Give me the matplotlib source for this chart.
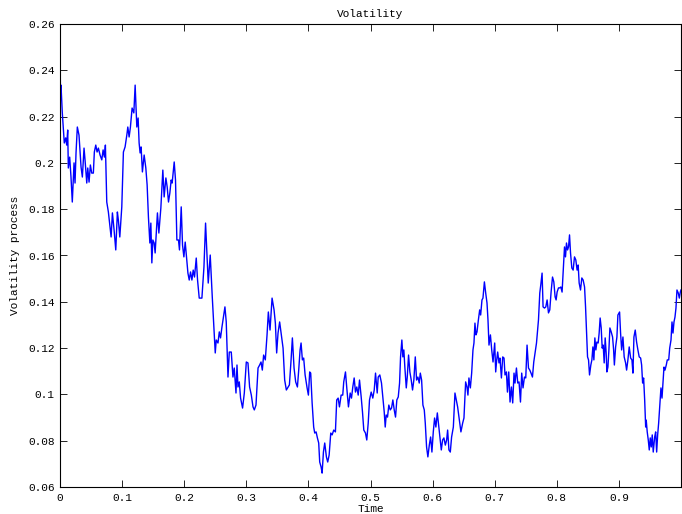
import matplotlib
matplotlib.use("Agg")
import matplotlib.pyplot as plt
from matplotlib.ticker import FuncFormatter

# volatility path (time, value)
time = [
    0.0000, 0.0008, 0.0016, 0.0037, 0.0069, 0.0092, 0.0108, 0.0124, 0.0134, 0.0156,
    0.0177, 0.0198, 0.0226, 0.0242, 0.0258, 0.0279, 0.0306, 0.0339, 0.0360, 0.0387,
    0.0403, 0.0431, 0.0447, 0.0468, 0.0489, 0.0511, 0.0537, 0.0553, 0.0576, 0.0597,
    0.0618, 0.0645, 0.0673, 0.0694, 0.0715, 0.0731, 0.0753, 0.0779, 0.0806, 0.0823,
    0.0844, 0.0871, 0.0898, 0.0924, 0.0940, 0.0963, 0.0995, 0.1021, 0.1048, 0.1076,
    0.1092, 0.1113, 0.1134, 0.1161, 0.1189, 0.1210, 0.1237, 0.1258, 0.1274, 0.1290,
    0.1306, 0.1327, 0.1355, 0.1382, 0.1403, 0.1424, 0.1447, 0.1463, 0.1479, 0.1495,
    0.1516, 0.1532, 0.1548, 0.1569, 0.1592, 0.1624, 0.1656, 0.1677, 0.1705, 0.1726,
    0.1747, 0.1769, 0.1790, 0.1806, 0.1839, 0.1860, 0.1882, 0.1908, 0.1924, 0.1952,
    0.1973, 0.1995, 0.2016, 0.2037, 0.2060, 0.2081, 0.2102, 0.2124, 0.2145, 0.2166,
    0.2194, 0.2215, 0.2242, 0.2285, 0.2318, 0.2344, 0.2366, 0.2387, 0.2419, 0.2452,
    0.2500, 0.2516, 0.2544, 0.2565, 0.2585, 0.2608, 0.2629, 0.2656, 0.2677, 0.2705,
    0.2726, 0.2758, 0.2785, 0.2806, 0.2834, 0.2850, 0.2866, 0.2887, 0.2908, 0.2940,
    0.2968, 0.3000, 0.3027, 0.3053, 0.3081, 0.3108, 0.3129, 0.3156, 0.3189, 0.3215,
    0.3237, 0.3258, 0.3279, 0.3306, 0.3334, 0.3355, 0.3382, 0.3415, 0.3447, 0.3468,
    0.3489, 0.3511, 0.3537, 0.3565, 0.3592, 0.3618, 0.3645, 0.3673, 0.3694, 0.3721,
    0.3742, 0.3769, 0.3795, 0.3823, 0.3844, 0.3866, 0.3882, 0.3903, 0.3924, 0.3947,
    0.3979, 0.4000, 0.4021, 0.4037, 0.4060, 0.4085, 0.4102, 0.4124, 0.4145, 0.4166,
    0.4182, 0.4205, 0.4221, 0.4242, 0.4263, 0.4290, 0.4311, 0.4334, 0.4360, 0.4382,
    0.4408, 0.4435, 0.4456, 0.4479, 0.4500, 0.4527, 0.4553, 0.4569, 0.4597, 0.4618,
    0.4645, 0.4673, 0.4694, 0.4715, 0.4737, 0.4758, 0.4779, 0.4802, 0.4823, 0.4850,
    0.4871, 0.4892, 0.4919, 0.4940, 0.4963, 0.4984, 0.5011, 0.5037, 0.5060, 0.5081,
    0.5108, 0.5124, 0.5150, 0.5177, 0.5198, 0.5221, 0.5237, 0.5253, 0.5274, 0.5295,
    0.5318, 0.5339, 0.5360, 0.5382, 0.5403, 0.5424, 0.5447, 0.5468, 0.5484, 0.5505,
    0.5521, 0.5537, 0.5553, 0.5576, 0.5592, 0.5613, 0.5634, 0.5656, 0.5677, 0.5698,
    0.5721, 0.5742, 0.5763, 0.5785, 0.5802, 0.5823, 0.5844, 0.5866, 0.5882, 0.5903,
    0.5924, 0.5947, 0.5968, 0.5989, 0.6011, 0.6032, 0.6053, 0.6076, 0.6097, 0.6118,
    0.6140, 0.6161, 0.6182, 0.6205, 0.6226, 0.6242, 0.6263, 0.6285, 0.6306, 0.6334,
    0.6360, 0.6382, 0.6403, 0.6424, 0.6456, 0.6484, 0.6505, 0.6532, 0.6553, 0.6569,
    0.6585, 0.6608, 0.6629, 0.6650, 0.6666, 0.6682, 0.6698, 0.6715, 0.6737, 0.6758,
    0.6774, 0.6795, 0.6811, 0.6834, 0.6855, 0.6876, 0.6892, 0.6908, 0.6931, 0.6952,
    0.6973, 0.7000, 0.7016, 0.7032, 0.7048, 0.7069, 0.7085, 0.7108, 0.7129, 0.7150,
    0.7166, 0.7189, 0.7205, 0.7226, 0.7247, 0.7269, 0.7290, 0.7311, 0.7327, 0.7350,
    0.7371, 0.7392, 0.7415, 0.7435, 0.7456, 0.7479, 0.7500, 0.7521, 0.7544, 0.7565,
    0.7585, 0.7608, 0.7629, 0.7650, 0.7673, 0.7705, 0.7726, 0.7742, 0.7763, 0.7779,
    0.7802, 0.7823, 0.7844, 0.7866, 0.7887, 0.7908, 0.7931, 0.7952, 0.7973, 0.7989,
    0.8005, 0.8027, 0.8048, 0.8065, 0.8085, 0.8102, 0.8124, 0.8140, 0.8156, 0.8173,
    0.8189, 0.8205, 0.8221, 0.8242, 0.8263, 0.8285, 0.8306, 0.8327, 0.8344, 0.8360,
    0.8382, 0.8403, 0.8424, 0.8447, 0.8463, 0.8479, 0.8495, 0.8511, 0.8527, 0.8548,
    0.8565, 0.8581, 0.8597, 0.8613, 0.8629, 0.8645, 0.8666, 0.8682, 0.8698, 0.8715,
    0.8731, 0.8747, 0.8763, 0.8779, 0.8795, 0.8806, 0.8823, 0.8839, 0.8855, 0.8876,
    0.8898, 0.8915, 0.8927, 0.8947, 0.8968, 0.8984, 0.9011, 0.9027, 0.9044, 0.9065,
    0.9085, 0.9108, 0.9124, 0.9145, 0.9166, 0.9189, 0.9210, 0.9226, 0.9242, 0.9263,
    0.9285, 0.9306, 0.9327, 0.9350, 0.9366, 0.9382, 0.9398, 0.9415, 0.9431, 0.9440,
    0.9456, 0.9473, 0.9489, 0.9505, 0.9521, 0.9537, 0.9553, 0.9576, 0.9592, 0.9608,
    0.9624, 0.9640, 0.9661, 0.9677, 0.9694, 0.9710, 0.9726, 0.9742, 0.9763, 0.9779,
    0.9802, 0.9818, 0.9839, 0.9855, 0.9871, 0.9887, 0.9903, 0.9919, 0.9935, 0.9956,
    0.9973, 0.9989, 1.0000,
]
vol = [
    0.2490, 0.2285, 0.2336, 0.2216, 0.2086, 0.2108, 0.2077, 0.2142, 0.1978, 0.2025,
    0.1939, 0.1831, 0.2000, 0.1913, 0.2043, 0.2155, 0.2120, 0.1982, 0.1939, 0.2064,
    0.2013, 0.1913, 0.1978, 0.1917, 0.1991, 0.1956, 0.1956, 0.2047, 0.2077, 0.2047,
    0.2064, 0.2034, 0.2013, 0.2056, 0.2025, 0.2077, 0.1831, 0.1788, 0.1723, 0.1680,
    0.1784, 0.1710, 0.1624, 0.1788, 0.1753, 0.1680, 0.1810, 0.2047, 0.2069, 0.2120,
    0.2155, 0.2112, 0.2155, 0.2237, 0.2216, 0.2336, 0.2155, 0.2194, 0.2086, 0.2043,
    0.2069, 0.1961, 0.2034, 0.1978, 0.1905, 0.1766, 0.1654, 0.1740, 0.1568, 0.1667,
    0.1654, 0.1611, 0.1689, 0.1784, 0.1697, 0.1805, 0.1969, 0.1853, 0.1935, 0.1896,
    0.1831, 0.1870, 0.1926, 0.1913, 0.2004, 0.1926, 0.1667, 0.1667, 0.1624, 0.1810,
    0.1645, 0.1594, 0.1658, 0.1594, 0.1524, 0.1494, 0.1529, 0.1494, 0.1537, 0.1507,
    0.1589, 0.1494, 0.1416, 0.1416, 0.1550, 0.1740, 0.1611, 0.1481, 0.1602, 0.1421,
    0.1179, 0.1235, 0.1222, 0.1270, 0.1244, 0.1291, 0.1330, 0.1378, 0.1313, 0.1075,
    0.1183, 0.1183, 0.1075, 0.1114, 0.1006, 0.1127, 0.1032, 0.1054, 0.0984, 0.0941,
    0.1006, 0.1140, 0.1136, 0.1032, 0.0997, 0.0946, 0.0933, 0.0954, 0.1114, 0.1127,
    0.1140, 0.1105, 0.1170, 0.1149, 0.1257, 0.1356, 0.1278, 0.1416, 0.1365, 0.1308,
    0.1179, 0.1265, 0.1313, 0.1257, 0.1200, 0.1062, 0.1019, 0.1032, 0.1041, 0.1149,
    0.1244, 0.1114, 0.1054, 0.1032, 0.1105, 0.1192, 0.1222, 0.1149, 0.1157, 0.1084,
    0.1028, 0.0997, 0.1097, 0.1092, 0.0963, 0.0859, 0.0833, 0.0838, 0.0812, 0.0790,
    0.0708, 0.0686, 0.0660, 0.0751, 0.0790, 0.0730, 0.0708, 0.0738, 0.0833, 0.0825,
    0.0846, 0.0838, 0.0976, 0.0984, 0.0946, 0.0997, 0.0997, 0.1054, 0.1097, 0.1028,
    0.0946, 0.1006, 0.0984, 0.1032, 0.1071, 0.1010, 0.1032, 0.0997, 0.1062, 0.0989,
    0.0924, 0.0846, 0.0833, 0.0803, 0.0876, 0.0976, 0.1010, 0.0984, 0.1019, 0.1092,
    0.1006, 0.1075, 0.1084, 0.1049, 0.0989, 0.0924, 0.0859, 0.0911, 0.0902, 0.0954,
    0.0933, 0.0941, 0.0976, 0.0933, 0.0902, 0.0976, 0.0989, 0.1049, 0.1162, 0.1235,
    0.1162, 0.1192, 0.1118, 0.1028, 0.1075, 0.1170, 0.1097, 0.1062, 0.1019, 0.1062,
    0.1162, 0.1062, 0.1075, 0.1049, 0.1092, 0.1062, 0.0954, 0.0933, 0.0876, 0.0773,
    0.0730, 0.0781, 0.0816, 0.0751, 0.0838, 0.0898, 0.0859, 0.0920, 0.0868, 0.0816,
    0.0760, 0.0803, 0.0812, 0.0781, 0.0803, 0.0846, 0.0760, 0.0751, 0.0816, 0.0859,
    0.1006, 0.0976, 0.0946, 0.0902, 0.0838, 0.0876, 0.0898, 0.1054, 0.1032, 0.0997,
    0.1071, 0.1028, 0.1092, 0.1192, 0.1222, 0.1308, 0.1257, 0.1270, 0.1321, 0.1365,
    0.1343, 0.1408, 0.1416, 0.1486, 0.1438, 0.1395, 0.1321, 0.1213, 0.1257, 0.1192,
    0.1140, 0.1222, 0.1097, 0.1149, 0.1183, 0.1136, 0.1157, 0.1071, 0.1162, 0.1157,
    0.1084, 0.1097, 0.1010, 0.1097, 0.0967, 0.1032, 0.0963, 0.1092, 0.1049, 0.1114,
    0.1049, 0.1054, 0.0967, 0.1092, 0.1028, 0.1075, 0.1071, 0.1213, 0.1114, 0.1105,
    0.1092, 0.1075, 0.1140, 0.1179, 0.1222, 0.1322, 0.1438, 0.1473, 0.1524, 0.1378,
    0.1373, 0.1378, 0.1408, 0.1352, 0.1365, 0.1442, 0.1507, 0.1486, 0.1421, 0.1408,
    0.1442, 0.1460, 0.1460, 0.1464, 0.1442, 0.1524, 0.1637, 0.1594, 0.1654, 0.1624,
    0.1637, 0.1689, 0.1611, 0.1546, 0.1537, 0.1594, 0.1581, 0.1537, 0.1559, 0.1481,
    0.1451, 0.1503, 0.1494, 0.1464, 0.1378, 0.1265, 0.1162, 0.1149, 0.1084, 0.1127,
    0.1149, 0.1205, 0.1149, 0.1244, 0.1192, 0.1226, 0.1222, 0.1265, 0.1330, 0.1287,
    0.1200, 0.1213, 0.1136, 0.1244, 0.1179, 0.1097, 0.1118, 0.1192, 0.1287, 0.1270,
    0.1248, 0.1192, 0.1127, 0.1205, 0.1248, 0.1343, 0.1356, 0.1265, 0.1192, 0.1248,
    0.1162, 0.1136, 0.1105, 0.1149, 0.1205, 0.1157, 0.1149, 0.1092, 0.1248, 0.1278,
    0.1226, 0.1192, 0.1162, 0.1157, 0.1127, 0.1049, 0.1071, 0.0976, 0.0859, 0.0889,
    0.0838, 0.0803, 0.0760, 0.0812, 0.0773, 0.0825, 0.0751, 0.0816, 0.0838, 0.0751,
    0.0825, 0.0876, 0.0963, 0.1028, 0.0984, 0.1049, 0.1118, 0.1105, 0.1127, 0.1149,
    0.1149, 0.1200, 0.1235, 0.1313, 0.1265, 0.1313, 0.1334, 0.1373, 0.1451, 0.1438,
    0.1416, 0.1442, 0.1451,
]

x_ticks = [0, 0.1, 0.2, 0.3, 0.4, 0.5, 0.6, 0.7, 0.8, 0.9]
y_ticks = [0.06, 0.08, 0.1, 0.12, 0.14, 0.16, 0.18, 0.2, 0.22, 0.24, 0.26]

plt.rcParams['font.family'] = ['Liberation Mono', 'DejaVu Sans Mono']
plt.rcParams['font.size'] = 8

fig = plt.figure(figsize=(6.82, 5.14), dpi=100)
ax = fig.add_axes([60 / 682, 27 / 514, 621 / 682, 463 / 514])

ax.plot(time, vol, color='#0000ff', linewidth=1.0)

ax.set_xlim(0, 1)
ax.set_ylim(0.06, 0.26)
ax.set_xticks(x_ticks)
ax.set_yticks(y_ticks)
fmt = FuncFormatter(lambda v, pos: '%g' % v)
ax.xaxis.set_major_formatter(fmt)
ax.yaxis.set_major_formatter(fmt)
ax.tick_params(direction='in', length=5, width=0.6, top=True, right=True,
               colors='black', labelsize=8, pad=4)
for s in ax.spines.values():
    s.set_linewidth(0.8)

ax.set_title('Volatility', fontsize=8, pad=5)
ax.set_xlabel('Time', fontsize=8, labelpad=1)
ax.set_ylabel('Volatility process', fontsize=8, labelpad=6)

fig.savefig('out.png', dpi=100, facecolor='white')
